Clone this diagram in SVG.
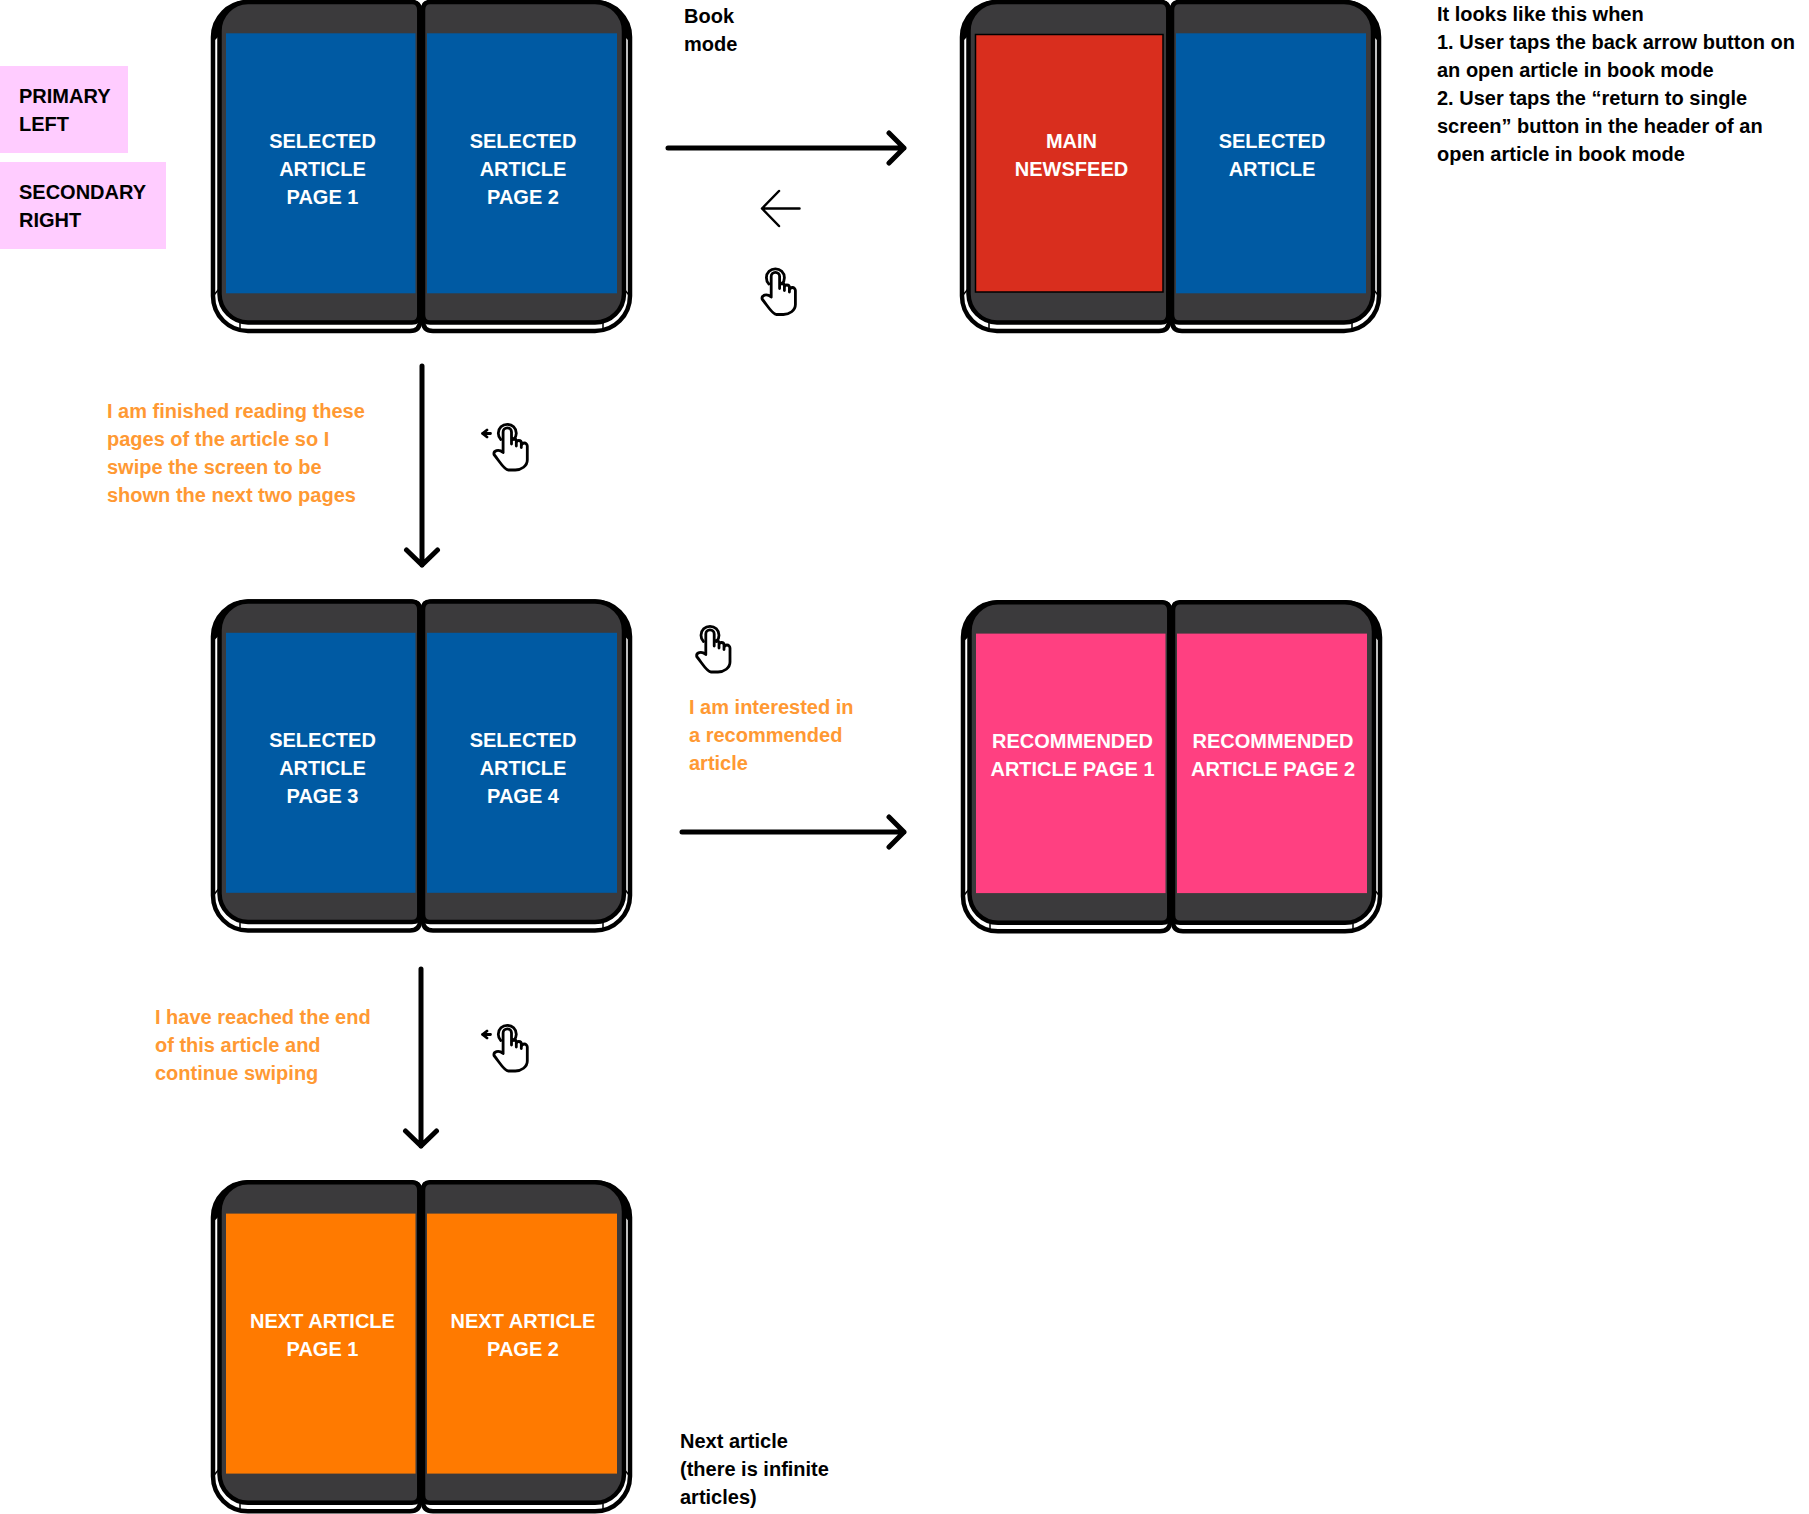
<svg xmlns="http://www.w3.org/2000/svg" xmlns:xlink="http://www.w3.org/1999/xlink" width="1809" height="1514" viewBox="0 0 1809 1514">
<style>
text{font-family:"Liberation Sans",Arial,sans-serif;font-weight:700;font-size:20px}
.w{fill:#fff;text-anchor:middle}
.k{fill:#000}
.o{fill:#ff9933}
.body{fill:#3b3a3c;stroke:#000;stroke-width:4.500}
.shell{fill:#fff;stroke:#000;stroke-width:4.500}
.cl{fill:none;stroke:#000;stroke-width:5;stroke-linecap:round;stroke-linejoin:round}
.thin{fill:none;stroke:#000;stroke-width:2.500;stroke-linecap:round;stroke-linejoin:round}
.hand{fill:none;stroke:#000;stroke-width:2.800;stroke-linecap:round;stroke-linejoin:round}
</style>
<defs>
<g id="device">
<path class="shell" d="M248 331H410Q420 331 420 321V10Q420 2 410 2H248A35 35 0 0 0 213 37V296A35 35 0 0 0 248 331Z"/>
<path class="shell" d="M433 331H595A35 35 0 0 0 630 296V37A35 35 0 0 0 595 2H433Q423 2 423 10V321Q423 331 433 331Z"/>
<path d="M213 37A35 35 0 0 1 248 2V20H225L219 36L213 42ZM630 37A35 35 0 0 0 595 2V20H618L624 36L630 42Z" fill="#000"/>
<path class="body" d="M248 322.500H412Q419.300 322.500 419.300 315V10Q419.300 2 412 2H248A29 29 0 0 0 219.500 31V294A29 29 0 0 0 248 322.500Z"/>
<path class="body" d="M430 322.500H595A29 29 0 0 0 624 294V31A29 29 0 0 0 595 2H430Q423 2 423 10V315Q423 322.500 430 322.500Z"/>
<path d="M214 295L219 289M629 295L624 289M240 330V323M603 330V323" stroke="#000" stroke-width="1.500" fill="none"/>
</g>
<g id="hand">
<path d="M-6.500 6.500A9 9 0 1 1 6.500 6.500"/>
<path d="M-4.200 19V-1A4.200 4.200 0 0 1 4.200 -1V11M4.200 8A2.400 2.400 0 0 1 9 8V13M9 10A2.500 2.500 0 0 1 14 10V14.500M14 13A3 3 0 0 1 20 13V27C20 33 14 37 8 37H1C-3 37 -8 28 -13.300 21.500C-14 18 -9 15.500 -4.200 19.500"/>
</g>
</defs>

<g id="connectors">
<path class="cl" d="M668 148H904M889 133L904 148L889 163"/>
<path class="thin" d="M799.500 208.500H762M779 191L762 208.500L779 226"/>
<path class="cl" d="M422 366V565M406.500 550L422 565L437.500 550"/>
<path class="cl" d="M682 832H904M889 817L904 832L889 847"/>
<path class="cl" d="M421 969V1146M405.500 1131L421 1146L436.500 1131"/>
</g>

<g id="labels-primary">
<rect id="primary-left" x="0" y="66" width="128" height="87" fill="#ffccff"/>
<text class="k" x="19" y="103">PRIMARY</text><text class="k" x="19" y="131">LEFT</text>
<rect id="secondary-right" x="0" y="162" width="166" height="87" fill="#ffccff"/>
<text class="k" x="19" y="199">SECONDARY</text><text class="k" x="19" y="227">RIGHT</text>
</g>

<g id="device-1">
<use xlink:href="#device" href="#device"/>
<rect x="226" y="33.300" width="189.500" height="260" fill="#005aa3"/>
<rect x="427" y="33.300" width="190" height="260" fill="#005aa3"/>
<text class="w" x="322.500" y="148">SELECTED</text><text class="w" x="322.500" y="176">ARTICLE</text><text class="w" x="322.500" y="204">PAGE 1</text>
<text class="w" x="523" y="148">SELECTED</text><text class="w" x="523" y="176">ARTICLE</text><text class="w" x="523" y="204">PAGE 2</text>
</g>

<g id="device-2" transform="translate(749 0)">
<use xlink:href="#device" href="#device"/>
<rect x="226.500" y="34.500" width="187.500" height="257.500" fill="#d92e1e" stroke="#000" stroke-width="1.500"/>
<rect x="427" y="33.300" width="190" height="260" fill="#005aa3"/>
<text class="w" x="322.500" y="148">MAIN</text><text class="w" x="322.500" y="176">NEWSFEED</text>
<text class="w" x="523" y="148">SELECTED</text><text class="w" x="523" y="176">ARTICLE</text>
</g>

<g id="device-3" transform="translate(0 599.500)">
<use xlink:href="#device" href="#device"/>
<rect x="226" y="33.300" width="189.500" height="260" fill="#005aa3"/>
<rect x="427" y="33.300" width="190" height="260" fill="#005aa3"/>
<text class="w" x="322.500" y="147.500">SELECTED</text><text class="w" x="322.500" y="175.500">ARTICLE</text><text class="w" x="322.500" y="203.500">PAGE 3</text>
<text class="w" x="523" y="147.500">SELECTED</text><text class="w" x="523" y="175.500">ARTICLE</text><text class="w" x="523" y="203.500">PAGE 4</text>
</g>

<g id="device-4" transform="translate(750 600.300)">
<use xlink:href="#device" href="#device"/>
<rect x="226" y="33.300" width="189.500" height="259.500" fill="#ff4081"/>
<rect x="427" y="33.300" width="190" height="259.500" fill="#ff4081"/>
<text class="w" x="322.500" y="147.500">RECOMMENDED</text><text class="w" x="322.500" y="175.500">ARTICLE PAGE 1</text>
<text class="w" x="523" y="147.500">RECOMMENDED</text><text class="w" x="523" y="175.500">ARTICLE PAGE 2</text>
</g>

<g id="device-5" transform="translate(0 1180.300)">
<use xlink:href="#device" href="#device"/>
<rect x="226" y="33.300" width="189.500" height="260" fill="#ff7a00"/>
<rect x="427" y="33.300" width="190" height="260" fill="#ff7a00"/>
<text class="w" x="322.500" y="148">NEXT ARTICLE</text><text class="w" x="322.500" y="176">PAGE 1</text>
<text class="w" x="523" y="148">NEXT ARTICLE</text><text class="w" x="523" y="176">PAGE 2</text>
</g>

<g id="icons" class="hand">
<use xlink:href="#hand" href="#hand" x="775.400" y="277.500"/>
<use xlink:href="#hand" href="#hand" x="710" y="635"/>
<use xlink:href="#hand" href="#hand" x="507.300" y="433"/>
<use xlink:href="#hand" href="#hand" x="507.300" y="1034"/>
<path d="M482.500 433.500H490.500M487 430L482.500 433.500L487 437M482.500 1034.500H490.500M487 1031L482.500 1034.500L487 1038"/>
</g>

<g id="captions">
<text class="k" x="684" y="23">Book</text><text class="k" x="684" y="51">mode</text>
<text class="k" x="1437" y="21">It looks like this when</text>
<text class="k" x="1437" y="49">1. User taps the back arrow button on</text>
<text class="k" x="1437" y="77">an open article in book mode</text>
<text class="k" x="1437" y="105">2. User taps the “return to single</text>
<text class="k" x="1437" y="133">screen” button in the header of an</text>
<text class="k" x="1437" y="161">open article in book mode</text>
<text class="o" x="107" y="418">I am finished reading these</text>
<text class="o" x="107" y="446">pages of the article so I</text>
<text class="o" x="107" y="474">swipe the screen to be</text>
<text class="o" x="107" y="502">shown the next two pages</text>
<text class="o" x="689" y="714">I am interested in</text>
<text class="o" x="689" y="742">a recommended</text>
<text class="o" x="689" y="770">article</text>
<text class="o" x="155" y="1024">I have reached the end</text>
<text class="o" x="155" y="1052">of this article and</text>
<text class="o" x="155" y="1080">continue swiping</text>
<text class="k" x="680" y="1448">Next article</text>
<text class="k" x="680" y="1476">(there is infinite</text>
<text class="k" x="680" y="1504">articles)</text>
</g>
</svg>
